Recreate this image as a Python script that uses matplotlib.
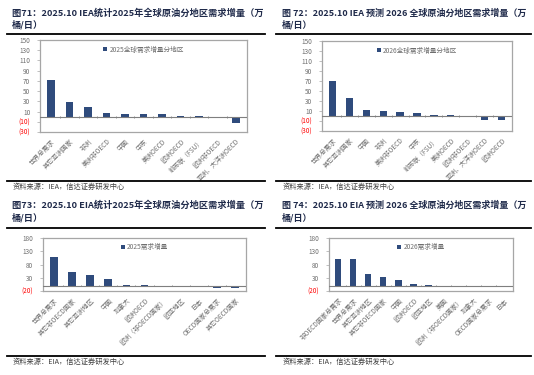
import matplotlib
matplotlib.use("Agg")
import matplotlib.pyplot as plt
from matplotlib.lines import Line2D

plt.rcParams['font.family'] = ['Noto Sans CJK SC', 'DejaVu Sans']

# ---------------- data ----------------
cats1 = ['世界总需求', '其它亚洲国家', '非洲', '美洲非OECD', '中国', '中东', '美洲OECD',
         '欧洲OECD', '前苏联（FSU）', '欧洲非OECD', '亚洲、大洋洲OECD']
vals1 = [71, 28.5, 19, 7.5, 6, 6, 6, 2, 2, 0, -13]

cats2 = ['世界总需求', '其它亚洲国家', '中国', '非洲', '美洲非OECD', '中东', '前苏联（FSU）',
         '美洲OECD', '欧洲非OECD', '亚洲、大洋洲OECD', '欧洲OECD']
vals2 = [70, 36, 12, 10, 8, 7, 2, 1.5, 0.5, -7, -8]

cats3 = ['世界总需求', '其它非OECD国家', '其它亚洲地区', '中国', '加拿大', '欧洲OECD',
         '欧洲（非OECD国家）', '欧亚地区', '日本', 'OECD国家总需求', '其它OECD国家']
vals3 = [107, 53, 42, 25, 4, 3, 0, -5, -6, -7, -9]

cats4 = ['非OECD国家总需求', '世界总需求', '其它亚洲地区', '其它非OECD国家', '中国', '欧洲OECD',
         '欧亚地区', '美国', '欧洲（非OECD国家）', '加拿大', 'OECD国家总需求', '日本']
vals4 = [101, 99, 43, 32, 23, 5, 3.5, 0.5, 0.3, -2, -2, -5]

titles = [
    ('图71：2025.10 IEA统计2025年全球原油分地区需求增量（万', '桶/日）'),
    ('图 72：2025.10 IEA 预测 2026 全球原油分地区需求增量（万', '桶/日）'),
    ('图73：2025.10 EIA统计2025年全球原油分地区需求增量（万', '桶/日）'),
    ('图 74：2025.10 EIA 预测 2026 全球原油分地区需求增量（万', '桶/日）'),
]
legends = ['2025全球需求增量分地区', '2026全球需求增量分地区', '2025需求增量', '2026需求增量']
sources = ['资料来源：IEA，信达证券研发中心', '资料来源：IEA，信达证券研发中心',
           '资料来源：EIA，信达证券研发中心', '资料来源：EIA，信达证券研发中心']
yticks_iea = [-30, -10, 10, 30, 50, 70, 90, 110, 130, 150]
yticks_eia = [-20, 30, 80, 130, 180]

# ---------------- layout ----------------
W, H = 534, 375
fig = plt.figure(figsize=(W / 100, H / 100), dpi=100)
fig.patch.set_facecolor('white')
renderer = fig.canvas.get_renderer()

BAR = '#2F4B7C'
GREY = '#6E6E6E'
NAVY = '#1F2A4A'


def px_axes(l, t, r, b):
    return fig.add_axes([l / W, 1 - b / H, (r - l) / W, (b - t) / H])


def hline(x0, x1, y, lw=1.3):
    fig.add_artist(Line2D([x0 / W, x1 / W], [1 - y / H, 1 - y / H], color='black',
                          lw=lw, transform=fig.transFigure))


def fmt(v):
    return f'({abs(v)})' if v < 0 else f'{v}'


def fit_text(x, y, s, target_w, size, **kw):
    t = fig.text(x / W, 1 - y / H, s, fontsize=size, **kw)
    w = t.get_window_extent(renderer).width
    new = size * target_w / w
    t.set_fontsize(new)
    return t, new


def panel(box, cats, vals, yticks, legend, title, source, frame):
    x0, x1, ty1, ty2, ly, sly, sy, tx, tw = frame
    t1, fs = fit_text(tx, ty1, title[0], tw, 7, fontweight='bold', color=NAVY,
                      va='center', ha='left')
    fig.text(tx / W, 1 - ty2 / H, title[1], fontsize=fs, fontweight='bold', color=NAVY,
             va='center', ha='left')
    hline(x0, x1, ly)
    hline(x0, x1, sly)
    fig.text((tx + 1) / W, 1 - sy / H, source, fontsize=5.2, color='#404040',
             va='center', ha='left', fontstyle='italic')

    ax = px_axes(*box)
    x = list(range(len(cats)))
    ax.bar(x, vals, width=0.42, color=BAR, label=legend, zorder=3)
    ymin, ymax = yticks[0], yticks[-1]
    ax.set_ylim(ymin, ymax)
    ax.set_xlim(-0.6, len(cats) - 0.4)
    ax.axhline(0, color='#7F7F7F', lw=0.8, zorder=4)
    d = (ymax - ymin) * 0.012
    ax.vlines([i + 0.5 for i in range(len(cats) - 1)], -d, d, color='#7F7F7F', lw=0.6,
              zorder=4)

    ax.set_yticks(yticks)
    ax.set_yticklabels([fmt(v) for v in yticks], fontsize=4.6)
    for lab, v in zip(ax.get_yticklabels(), yticks):
        lab.set_color('#FF0000' if v < 0 else GREY)
    ax.tick_params(axis='y', length=2, width=0.5, color='#A6A6A6', pad=5)

    ax.set_xticks(x)
    ax.set_xticklabels(cats, rotation=45, ha='right', rotation_mode='anchor',
                       fontsize=4.7, color=GREY)
    ax.tick_params(axis='x', length=0, pad=4)

    for s in ax.spines.values():
        s.set_color('#A6A6A6')
        s.set_linewidth(0.9)
    leg = ax.legend(loc='upper center', bbox_to_anchor=(0.5, 0.99), frameon=False,
                    fontsize=4.8, handlelength=0.6, handleheight=0.6, handletextpad=0.3,
                    borderaxespad=0.3)
    for t in leg.get_texts():
        t.set_color(GREY)
    return ax


panel((40, 40, 247, 132), cats1, vals1, yticks_iea, legends[0], titles[0], sources[0],
      (7, 265, 13, 25, 34, 181, 187, 12, 251))
panel((322, 41, 512, 131), cats2, vals2, yticks_iea, legends[1], titles[1], sources[1],
      (276, 531, 13, 25, 34, 181, 187, 282, 246))
panel((43, 238, 246, 291), cats3, vals3, yticks_eia, legends[2], titles[2], sources[2],
      (7, 265, 205, 218, 228, 356, 362, 12, 251))
panel((329, 238, 513, 291), cats4, vals4, yticks_eia, legends[3], titles[3], sources[3],
      (276, 531, 205, 218, 228, 356, 362, 282, 246))

fig.savefig('out.png', dpi=100, facecolor='white')
